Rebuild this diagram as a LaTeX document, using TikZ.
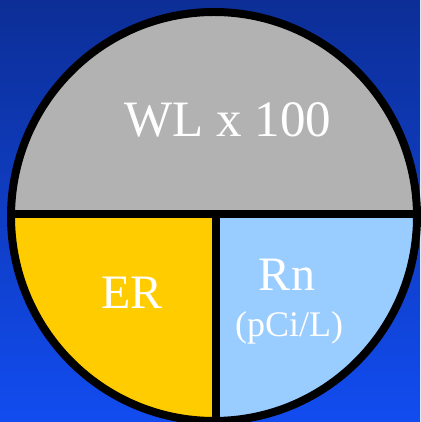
\documentclass[tikz,border=0pt]{standalone}
\usepackage{fontspec}
\setmainfont{Liberation Serif}
\definecolor{bgtop}{RGB}{12,46,150}
\definecolor{bgbot}{RGB}{18,76,240}
\definecolor{wlgray}{RGB}{178,178,178}
\definecolor{eryellow}{RGB}{255,204,0}
\definecolor{rnblue}{RGB}{153,204,255}
\tikzset{
  lbl/.style={text=white, anchor=base, inner sep=0pt},
  rim/.style={line width=8pt, draw=black},
  disc/.style={x radius=203, y radius=204.5}
}
\begin{document}
\begin{tikzpicture}[x=1pt,y=1pt]
\shade[top color=bgtop, bottom color=bgbot] (0,0) rectangle (420,422);
\useasboundingbox (0,0) rectangle (420,422);
\coordinate (c) at (214,205.5);
\begin{scope}
  \clip (c) ellipse[disc];
  \fill[wlgray] (0,208) rectangle (420,422);
  \fill[eryellow] (0,-10) rectangle (216,208);
  \fill[rnblue] (216,-10) rectangle (430,208);
\end{scope}
\coordinate (hl) at (0,208);
\coordinate (hr) at (430,208);
\coordinate (vt) at (216,208);
\coordinate (vb) at (216,-10);
\begin{scope}
  \clip (c) ellipse[disc];
  \draw[rim] (hl) -- (hr);
  \draw[rim] (vt) -- (vb);
\end{scope}
\draw[rim] (c) ellipse[disc];
\node[lbl, font=\fontsize{51}{51}\selectfont] (wl) at (228,285) {WL x 100};
\node[lbl, font=\fontsize{48}{48}\selectfont] (er) at (132,113) {ER};
\node[lbl, font=\fontsize{48}{48}\selectfont] (rn) at (287,131) {Rn};
\node[lbl, font=\fontsize{36}{36}\selectfont] (unit) at (289,85) {(pCi/L)};
\end{tikzpicture}
\end{document}
